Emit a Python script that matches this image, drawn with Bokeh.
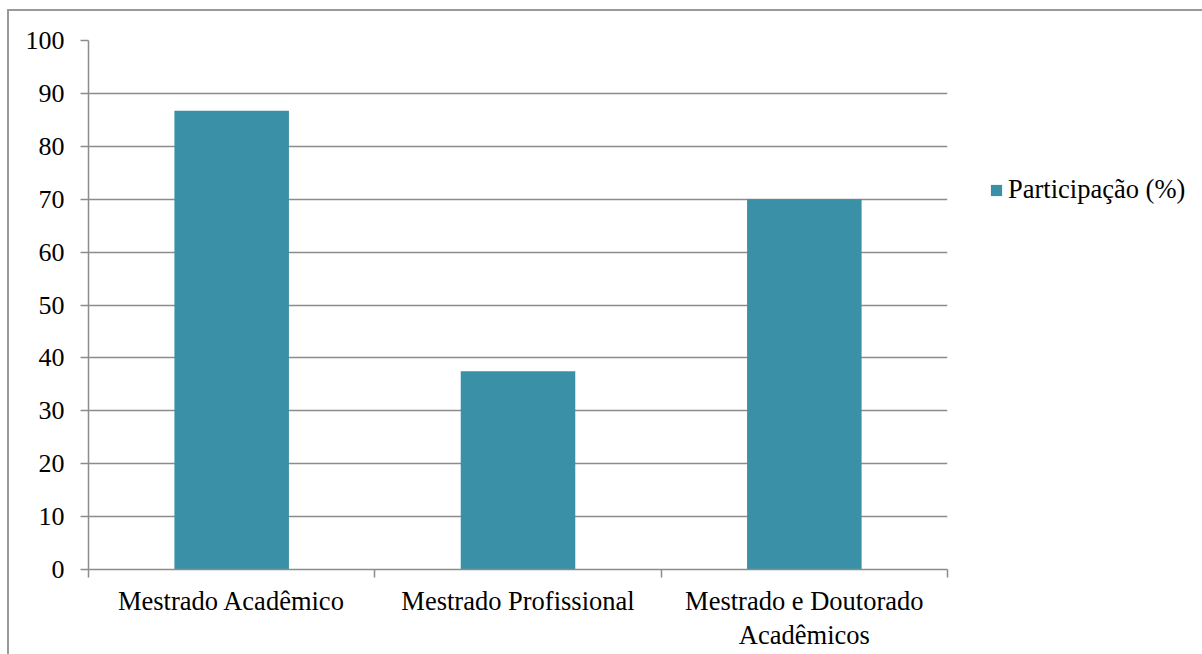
import numpy as np
from bokeh.plotting import figure
from bokeh.models import (Range1d, LinearAxis, FixedTicker, SingleIntervalTicker,
                          Legend, LegendItem, ColumnDataSource, Grid)
from bokeh.embed import file_html
from bokeh.resources import INLINE

# Participação por tipo de programa
categories = ["Mestrado Acadêmico", "Mestrado Profissional",
              "Mestrado e Doutorado Acadêmicos"]
tick_labels = ["Mestrado Acadêmico", "Mestrado Profissional",
               "Mestrado e Doutorado\nAcadêmicos"]
participacao = [86.7, 37.5, 70.0]
series_name = "Participação (%)"

BAR = "#3A91A7"
GRAY = "#8c8c8c"
FONT = "Liberation Serif"
FSIZE = "26px"
LSIZE = "26.5px"

n = len(categories)
centers = np.arange(n) + 0.5   # one unit slot per category
edges = np.arange(n + 1)

src = ColumnDataSource(dict(x=centers, cat=categories, val=participacao))

p = figure(
    x_range=Range1d(0, n),
    y_range=Range1d(0, 100),
    frame_width=859, frame_height=529,
    min_border_left=79, min_border_top=29, min_border_right=255, min_border_bottom=86,
    x_axis_type=None, y_axis_type=None,
    output_backend="svg", toolbar_location=None,
    margin=(9, 0, 0, 7),
    styles={"border-top": "2px solid #9a9a9a", "border-left": "2px solid #9a9a9a"},
)
p.outline_line_color = None
p.background_fill_color = "white"
p.border_fill_color = "white"

bars = p.vbar(x="x", top="val", width=0.4, source=src, fill_color=BAR, line_color=None)

# y axis
yax = LinearAxis(ticker=SingleIntervalTicker(interval=10))
yax.axis_line_color = GRAY
yax.axis_line_width = 1.5
yax.major_tick_line_color = GRAY
yax.major_tick_line_width = 1.5
yax.major_tick_out = 8
yax.major_tick_in = 0
yax.minor_tick_line_color = None
yax.major_label_standoff = 16
yax.major_label_text_font = FONT
yax.major_label_text_font_size = FSIZE
yax.major_label_text_color = "black"
p.add_layout(yax, "left")

# horizontal gridlines
g = Grid(dimension=1, ticker=yax.ticker)
g.grid_line_color = GRAY
g.grid_line_width = 1.5
p.add_layout(g)

# x axis: ticks on category boundaries
edge_ax = LinearAxis(ticker=FixedTicker(ticks=[float(e) for e in edges]))
edge_ax.axis_line_color = GRAY
edge_ax.axis_line_width = 1.5
edge_ax.major_tick_line_color = GRAY
edge_ax.major_tick_line_width = 1.5
edge_ax.major_tick_out = 8
edge_ax.major_tick_in = 0
edge_ax.minor_tick_line_color = None
edge_ax.major_label_text_font_size = "0px"
edge_ax.major_label_standoff = 0
p.add_layout(edge_ax, "below")

# x axis: category names centred under the bars
cat_ax = LinearAxis(ticker=FixedTicker(ticks=[float(c) for c in centers]))
cat_ax.major_label_overrides = {float(c): t for c, t in zip(centers, tick_labels)}
cat_ax.axis_line_color = None
cat_ax.major_tick_line_color = None
cat_ax.minor_tick_line_color = None
cat_ax.major_tick_out = 0
cat_ax.major_tick_in = 0
cat_ax.major_label_standoff = 8
cat_ax.major_label_text_font = FONT
cat_ax.major_label_text_font_size = LSIZE
cat_ax.major_label_text_line_height = 1.15
cat_ax.major_label_text_color = "black"
p.add_layout(cat_ax, "below")

legend = Legend(items=[LegendItem(label=series_name, renderers=[bars])],
                location=(42, 364))
legend.glyph_width = 14
legend.glyph_height = 14
legend.label_standoff = 5
legend.padding = 0
legend.margin = 0
legend.spacing = 0
legend.border_line_color = None
legend.background_fill_alpha = 0
legend.label_text_font = FONT
legend.label_text_font_size = LSIZE
legend.label_text_color = "black"
p.add_layout(legend, "right")

open("out.html", "w").write(file_html(p, INLINE))
